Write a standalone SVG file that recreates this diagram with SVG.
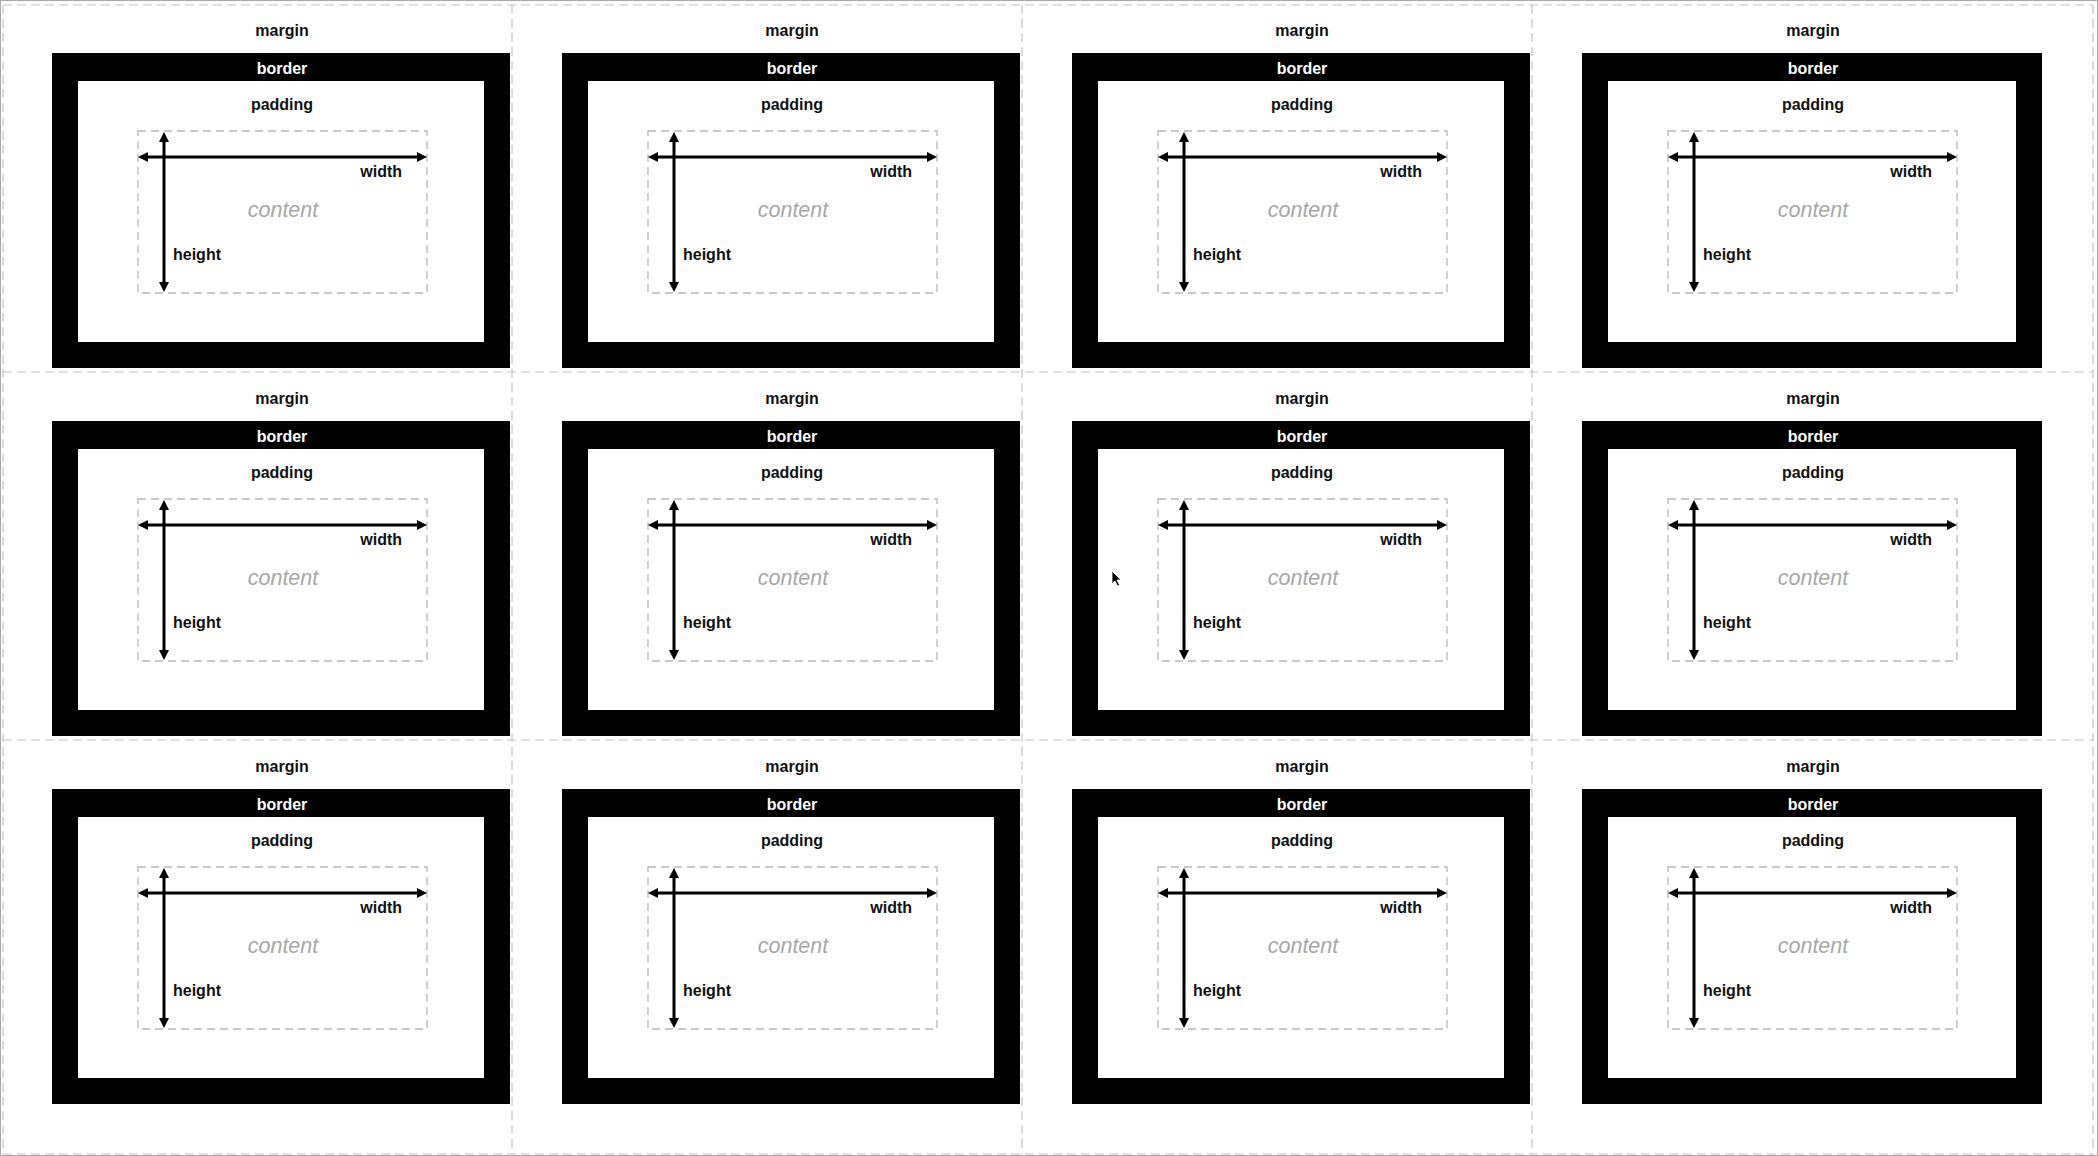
<svg xmlns="http://www.w3.org/2000/svg" width="2098" height="1156" viewBox="0 0 2098 1156">
<defs>
<style>
.bd{fill:#000}
.pd{fill:#fff}
.ct{fill:none;stroke:#b8b8b8;stroke-width:1.3;stroke-dasharray:8 5}
.grid{stroke:#c4c4c4;stroke-width:1.2;stroke-dasharray:9 5;fill:none}
.lbl{font-family:"Liberation Sans",Arial,sans-serif;font-size:16px;font-weight:bold;fill:#111;text-anchor:middle}
.wt{fill:#fff}
.cnt{font-family:"Liberation Sans",Arial,sans-serif;font-size:21.5px;font-style:italic;fill:#a8a8a8;text-anchor:middle}
.arr{stroke:#000;stroke-width:3;fill:none;marker-start:url(#ah);marker-end:url(#ah)}
</style>
<marker id="ah" viewBox="0 0 10 10" refX="2" refY="5" markerWidth="10" markerHeight="11" markerUnits="userSpaceOnUse" orient="auto-start-reverse">
<path d="M0,0 L10,5 L0,10 z" fill="#000"/>
</marker>
</defs>
<rect x="0" y="0" width="2098" height="1156" fill="#fff"/>
<rect x="0.5" y="0.5" width="2097" height="1155" fill="none" stroke="#a8a8a8" stroke-width="1"/>
<g id="grid">
<path class="grid" d="M3,5 H2093 M3,372 H2093 M3,740 H2093 M3,1154 H2093 M3,5 V1154 M512,5 V1154 M1022,5 V1154 M1532,5 V1154 M2093,5 V1154"/>
</g>
<g id="cell-r1c1" transform="translate(52,53)"><rect class="bd" width="458" height="315"/><rect class="pd" x="26" y="28" width="406" height="261"/><rect class="ct" x="86" y="78" width="289" height="162"/><text class="lbl" x="230" y="-17">margin</text><text class="lbl wt" x="230" y="21">border</text><text class="lbl" x="230" y="57">padding</text><text class="cnt" x="231" y="164">content</text><text class="lbl" x="350" y="124" style="text-anchor:end">width</text><text class="lbl" x="121" y="207" style="text-anchor:start">height</text></g>
<g id="cell-r1c2" transform="translate(562,53)"><rect class="bd" width="458" height="315"/><rect class="pd" x="26" y="28" width="406" height="261"/><rect class="ct" x="86" y="78" width="289" height="162"/><text class="lbl" x="230" y="-17">margin</text><text class="lbl wt" x="230" y="21">border</text><text class="lbl" x="230" y="57">padding</text><text class="cnt" x="231" y="164">content</text><text class="lbl" x="350" y="124" style="text-anchor:end">width</text><text class="lbl" x="121" y="207" style="text-anchor:start">height</text></g>
<g id="cell-r1c3" transform="translate(1072,53)"><rect class="bd" width="458" height="315"/><rect class="pd" x="26" y="28" width="406" height="261"/><rect class="ct" x="86" y="78" width="289" height="162"/><text class="lbl" x="230" y="-17">margin</text><text class="lbl wt" x="230" y="21">border</text><text class="lbl" x="230" y="57">padding</text><text class="cnt" x="231" y="164">content</text><text class="lbl" x="350" y="124" style="text-anchor:end">width</text><text class="lbl" x="121" y="207" style="text-anchor:start">height</text></g>
<g id="cell-r1c4" transform="translate(1582,53)"><rect class="bd" width="460" height="315"/><rect class="pd" x="26" y="28" width="408" height="261"/><rect class="ct" x="86" y="78" width="289" height="162"/><text class="lbl" x="231" y="-17">margin</text><text class="lbl wt" x="231" y="21">border</text><text class="lbl" x="231" y="57">padding</text><text class="cnt" x="231" y="164">content</text><text class="lbl" x="350" y="124" style="text-anchor:end">width</text><text class="lbl" x="121" y="207" style="text-anchor:start">height</text></g>
<g id="cell-r2c1" transform="translate(52,421)"><rect class="bd" width="458" height="315"/><rect class="pd" x="26" y="28" width="406" height="261"/><rect class="ct" x="86" y="78" width="289" height="162"/><text class="lbl" x="230" y="-17">margin</text><text class="lbl wt" x="230" y="21">border</text><text class="lbl" x="230" y="57">padding</text><text class="cnt" x="231" y="164">content</text><text class="lbl" x="350" y="124" style="text-anchor:end">width</text><text class="lbl" x="121" y="207" style="text-anchor:start">height</text></g>
<g id="cell-r2c2" transform="translate(562,421)"><rect class="bd" width="458" height="315"/><rect class="pd" x="26" y="28" width="406" height="261"/><rect class="ct" x="86" y="78" width="289" height="162"/><text class="lbl" x="230" y="-17">margin</text><text class="lbl wt" x="230" y="21">border</text><text class="lbl" x="230" y="57">padding</text><text class="cnt" x="231" y="164">content</text><text class="lbl" x="350" y="124" style="text-anchor:end">width</text><text class="lbl" x="121" y="207" style="text-anchor:start">height</text></g>
<g id="cell-r2c3" transform="translate(1072,421)"><rect class="bd" width="458" height="315"/><rect class="pd" x="26" y="28" width="406" height="261"/><rect class="ct" x="86" y="78" width="289" height="162"/><text class="lbl" x="230" y="-17">margin</text><text class="lbl wt" x="230" y="21">border</text><text class="lbl" x="230" y="57">padding</text><text class="cnt" x="231" y="164">content</text><text class="lbl" x="350" y="124" style="text-anchor:end">width</text><text class="lbl" x="121" y="207" style="text-anchor:start">height</text></g>
<g id="cell-r2c4" transform="translate(1582,421)"><rect class="bd" width="460" height="315"/><rect class="pd" x="26" y="28" width="408" height="261"/><rect class="ct" x="86" y="78" width="289" height="162"/><text class="lbl" x="231" y="-17">margin</text><text class="lbl wt" x="231" y="21">border</text><text class="lbl" x="231" y="57">padding</text><text class="cnt" x="231" y="164">content</text><text class="lbl" x="350" y="124" style="text-anchor:end">width</text><text class="lbl" x="121" y="207" style="text-anchor:start">height</text></g>
<g id="cell-r3c1" transform="translate(52,789)"><rect class="bd" width="458" height="315"/><rect class="pd" x="26" y="28" width="406" height="261"/><rect class="ct" x="86" y="78" width="289" height="162"/><text class="lbl" x="230" y="-17">margin</text><text class="lbl wt" x="230" y="21">border</text><text class="lbl" x="230" y="57">padding</text><text class="cnt" x="231" y="164">content</text><text class="lbl" x="350" y="124" style="text-anchor:end">width</text><text class="lbl" x="121" y="207" style="text-anchor:start">height</text></g>
<g id="cell-r3c2" transform="translate(562,789)"><rect class="bd" width="458" height="315"/><rect class="pd" x="26" y="28" width="406" height="261"/><rect class="ct" x="86" y="78" width="289" height="162"/><text class="lbl" x="230" y="-17">margin</text><text class="lbl wt" x="230" y="21">border</text><text class="lbl" x="230" y="57">padding</text><text class="cnt" x="231" y="164">content</text><text class="lbl" x="350" y="124" style="text-anchor:end">width</text><text class="lbl" x="121" y="207" style="text-anchor:start">height</text></g>
<g id="cell-r3c3" transform="translate(1072,789)"><rect class="bd" width="458" height="315"/><rect class="pd" x="26" y="28" width="406" height="261"/><rect class="ct" x="86" y="78" width="289" height="162"/><text class="lbl" x="230" y="-17">margin</text><text class="lbl wt" x="230" y="21">border</text><text class="lbl" x="230" y="57">padding</text><text class="cnt" x="231" y="164">content</text><text class="lbl" x="350" y="124" style="text-anchor:end">width</text><text class="lbl" x="121" y="207" style="text-anchor:start">height</text></g>
<g id="cell-r3c4" transform="translate(1582,789)"><rect class="bd" width="460" height="315"/><rect class="pd" x="26" y="28" width="408" height="261"/><rect class="ct" x="86" y="78" width="289" height="162"/><text class="lbl" x="231" y="-17">margin</text><text class="lbl wt" x="231" y="21">border</text><text class="lbl" x="231" y="57">padding</text><text class="cnt" x="231" y="164">content</text><text class="lbl" x="350" y="124" style="text-anchor:end">width</text><text class="lbl" x="121" y="207" style="text-anchor:start">height</text></g>
<g id="connectors">
<g transform="translate(52,53)"><path class="arr" d="M94,104 H367"/><path class="arr" d="M112,87 V231"/></g>
<g transform="translate(562,53)"><path class="arr" d="M94,104 H367"/><path class="arr" d="M112,87 V231"/></g>
<g transform="translate(1072,53)"><path class="arr" d="M94,104 H367"/><path class="arr" d="M112,87 V231"/></g>
<g transform="translate(1582,53)"><path class="arr" d="M94,104 H367"/><path class="arr" d="M112,87 V231"/></g>
<g transform="translate(52,421)"><path class="arr" d="M94,104 H367"/><path class="arr" d="M112,87 V231"/></g>
<g transform="translate(562,421)"><path class="arr" d="M94,104 H367"/><path class="arr" d="M112,87 V231"/></g>
<g transform="translate(1072,421)"><path class="arr" d="M94,104 H367"/><path class="arr" d="M112,87 V231"/></g>
<g transform="translate(1582,421)"><path class="arr" d="M94,104 H367"/><path class="arr" d="M112,87 V231"/></g>
<g transform="translate(52,789)"><path class="arr" d="M94,104 H367"/><path class="arr" d="M112,87 V231"/></g>
<g transform="translate(562,789)"><path class="arr" d="M94,104 H367"/><path class="arr" d="M112,87 V231"/></g>
<g transform="translate(1072,789)"><path class="arr" d="M94,104 H367"/><path class="arr" d="M112,87 V231"/></g>
<g transform="translate(1582,789)"><path class="arr" d="M94,104 H367"/><path class="arr" d="M112,87 V231"/></g>
</g>
<g id="cursor">
<path d="M1112,571 L1112,584 L1115,581 L1117.5,586 L1119.5,585 L1117,580 L1121,580 Z" fill="#000" stroke="#fff" stroke-width="0.8"/>
</g>
</svg>
